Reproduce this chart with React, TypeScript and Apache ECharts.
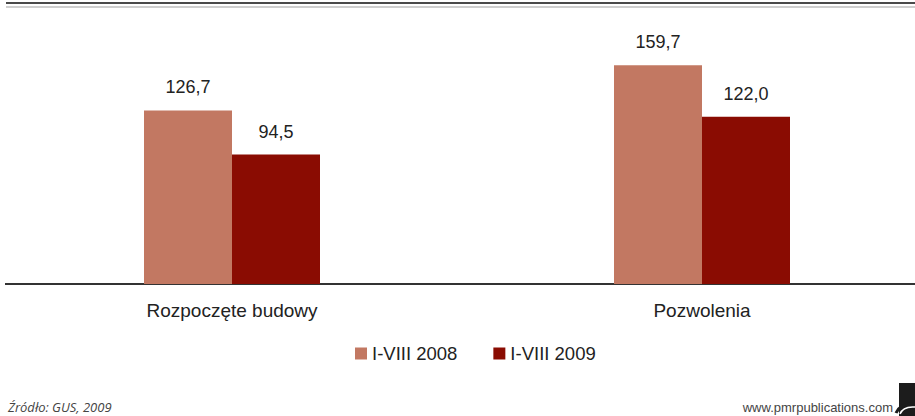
import React, { useEffect, useRef } from "react";
import * as echarts from "echarts";

const categories = ["Rozpoczęte budowy", "Pozwolenia"];
const seriesNames = ["I-VIII 2008", "I-VIII 2009"];
const values2008 = [126.7, 159.7];
const values2009 = [94.5, 122.0];
const sourceText = "Źródło: GUS, 2009";
const siteText = "www.pmrpublications.com";

const COLOR_2008 = "#C27862";
const COLOR_2009 = "#8A0C02";
const FONT = "'Liberation Sans', Arial, sans-serif";

// The canvas is a little wider than the window and shifted left so the
// category slots sit where they should; OX converts window x to canvas x.
const OX = 3;
const CANVAS_W = 940;

const fmt = (v: number) => v.toFixed(1).replace(".", ",");

export default function App() {
  const ref = useRef<HTMLDivElement>(null);

  useEffect(() => {
    if (!ref.current) return;
    const chart = echarts.init(ref.current, undefined, { renderer: "svg" });

    const label = {
      show: true,
      position: "top" as const,
      distance: 14,
      fontSize: 18,
      fontFamily: FONT,
      color: "#222",
      formatter: (p: any) => fmt(p.value),
    };

    chart.setOption({
      animation: false,
      backgroundColor: "#ffffff",
      textStyle: { fontFamily: FONT },
      grid: { left: 0, right: 0, top: 10, bottom: 132, containLabel: false },
      legend: {
        left: 355 + OX,
        top: 344,
        padding: 0,
        itemWidth: 12,
        itemHeight: 12,
        itemGap: 36,
        icon: "rect",
        textStyle: { fontSize: 18.5, color: "#222", fontFamily: FONT },
        data: seriesNames,
      },
      xAxis: {
        type: "category",
        data: categories,
        axisLine: { show: false },
        axisTick: { show: false },
        axisLabel: { fontSize: 19, color: "#222", margin: 17, fontFamily: FONT },
      },
      yAxis: {
        type: "value",
        min: 0,
        max: 200,
        show: false,
        splitLine: { show: false },
      },
      series: [
        {
          name: seriesNames[0],
          type: "bar",
          data: values2008,
          barWidth: 88,
          barGap: "0%",
          itemStyle: { color: COLOR_2008 },
          label,
        },
        {
          name: seriesNames[1],
          type: "bar",
          data: values2009,
          barWidth: 88,
          itemStyle: { color: COLOR_2009 },
          label,
        },
      ],
      graphic: [
        // double rule across the top
        { type: "rect", shape: { x: 6 + OX, y: 2, width: 920, height: 2 }, style: { fill: "#4a4a4a" } },
        { type: "rect", shape: { x: 6 + OX, y: 6, width: 920, height: 2 }, style: { fill: "#cfcfcf" } },
        // baseline under the bars
        { type: "line", shape: { x1: 5 + OX, y1: 284, x2: 930, y2: 284 }, style: { stroke: "#333", lineWidth: 2 } },
        {
          type: "text",
          x: 8 + OX,
          y: 413,
          style: {
            text: sourceText,
            font: "italic 13px 'Open Sans', 'Liberation Sans', sans-serif",
            fill: "#444",
            textVerticalAlign: "bottom",
          },
        },
        {
          type: "text",
          x: 893 + OX,
          y: 414,
          style: {
            text: siteText,
            font: "13px 'Liberation Sans', Arial, sans-serif",
            fill: "#444",
            textAlign: "right",
            textVerticalAlign: "bottom",
          },
        },
        // logo block in the corner
        { type: "rect", shape: { x: 899 + OX, y: 383, width: 16, height: 33 }, style: { fill: "#1c1c1c" } },
        {
          type: "bezierCurve",
          shape: { x1: 896 + OX, y1: 413, x2: 915 + OX, y2: 404, cpx1: 900 + OX, cpy1: 403 },
          style: { stroke: "#1c1c1c", lineWidth: 3, fill: null },
        },
        {
          type: "bezierCurve",
          shape: { x1: 900 + OX, y1: 414, x2: 915 + OX, y2: 407, cpx1: 903 + OX, cpy1: 406 },
          style: { stroke: "#ffffff", lineWidth: 1.5, fill: null },
        },
      ],
    });

    return () => chart.dispose();
  }, []);

  return (
    <div
      style={{
        position: "fixed",
        left: 0,
        top: 0,
        width: 915,
        height: 416,
        overflow: "hidden",
        background: "#fff",
      }}
    >
      <div
        ref={ref}
        style={{ position: "absolute", left: -OX, top: 0, width: CANVAS_W, height: 416 }}
      />
    </div>
  );
}
